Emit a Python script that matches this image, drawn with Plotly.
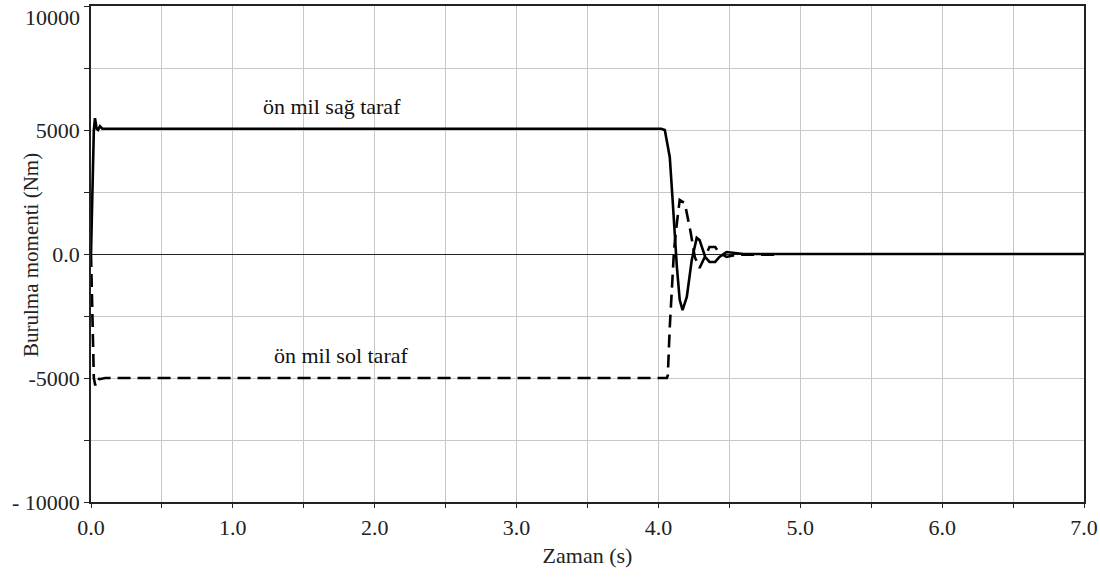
import plotly.graph_objects as go

# Solid: ön mil sağ taraf
t_sag = [0, 0.01, 0.02, 0.028, 0.04, 0.05, 0.063, 0.08, 0.1, 4.02, 4.045, 4.08, 4.10, 4.115, 4.13,
         4.15, 4.17, 4.20, 4.235, 4.27, 4.29, 4.33, 4.36, 4.40, 4.43, 4.48, 4.52, 4.6, 7.0]
v_sag = [0, 2500, 5000, 5480, 5050, 5000, 5150, 5050, 5050, 5050, 5000, 3900, 2180, 565, -520,
         -1850, -2260, -1730, -240, 650, 560, -120, -320, -320, -120, 80, 60, 0, 0]

# Dashed: ön mil sol taraf
t_sol = [0, 0.01, 0.02, 0.03, 0.045, 0.06, 0.1, 4.06, 4.066, 4.08, 4.094, 4.11, 4.13, 4.15, 4.186,
         4.207, 4.228, 4.256, 4.29, 4.327, 4.36, 4.40, 4.43, 4.48, 4.55, 4.86]
v_sol = [0, -2500, -5000, -5300, -5000, -5050, -5000, -5000, -4900, -2940, -1330, 160, 1250, 2180, 2050,
         1500, 850, -120, -565, -120, 280, 280, 40, -120, -30, -30]

y_ticks = [10000, 5000, 0, -5000, -10000]
y_labels = ["", "5000", "0.0", "-5000", "- 10000"]
y_top_label = "10000"
y_minor = [7500, 2500, -2500, -7500]
x_ticks = [0, 1, 2, 3, 4, 5, 6, 7]
x_labels = ["0.0", "1.0", "2.0", "3.0", "4.0", "5.0", "6.0", "7.0"]
x_minor = [0.5, 1.5, 2.5, 3.5, 4.5, 5.5, 6.5]
x_title = "Zaman (s)"
y_title = "Burulma momenti (Nm)"

font = "Liberation Serif"
fs = 22
ink = "#222"
grid = "#c8c8c8"

fig = go.Figure()
fig.add_trace(go.Scatter(x=t_sol, y=v_sol, mode="lines",
                         line=dict(color="black", width=2.6, dash="13px,7px")))
fig.add_trace(go.Scatter(x=t_sag, y=v_sag, mode="lines",
                         line=dict(color="black", width=2.6)))

fig.add_annotation(x=1.70, y=5000, text="ön mil sağ taraf", showarrow=False,
                   yshift=24, font=dict(family=font, size=fs, color="#111"))
fig.add_annotation(x=1.76, y=-5000, text="ön mil sol taraf", showarrow=False,
                   yshift=23, font=dict(family=font, size=fs, color="#111"))
fig.add_annotation(x=0, y=10000, xref="x", yref="y", text=y_top_label, showarrow=False,
                   xanchor="right", xshift=-9, yshift=-11,
                   font=dict(family=font, size=fs, color=ink))
fig.add_annotation(x=-0.0604, y=0.498, xref="paper", yref="paper", text=y_title,
                   showarrow=False, textangle=-90, xanchor="center", yanchor="middle",
                   font=dict(family=font, size=21, color=ink))

fig.update_layout(
    width=1100, height=577,
    margin=dict(l=91, r=16, t=6, b=75),
    paper_bgcolor="white", plot_bgcolor="white",
    showlegend=False,
    font=dict(family=font, size=fs, color=ink),
    xaxis=dict(range=[0, 7], tickvals=x_ticks, ticktext=x_labels, automargin=False,
               showgrid=True, gridcolor=grid, gridwidth=1,
               ticks="outside", ticklen=4, tickcolor=ink,
               showline=True, linecolor=ink, linewidth=1.5, mirror=True,
               zeroline=False, ticklabelstandoff=1, ticklabeloverflow="allow",
               tickfont=dict(family=font, size=fs, color=ink),
               minor=dict(tickvals=x_minor, showgrid=True,
                          gridcolor=grid, ticks="outside", ticklen=4, tickcolor=ink),
               title=dict(text=x_title, font=dict(family=font, size=fs), standoff=8)),
    yaxis=dict(range=[-10000, 10000], tickvals=y_ticks, ticktext=y_labels, automargin=False,
               showgrid=True, gridcolor=grid, gridwidth=1,
               ticks="outside", ticklen=5, tickcolor=ink,
               showline=True, linecolor=ink, linewidth=1.5, mirror=True,
               zeroline=True, zerolinecolor=ink, zerolinewidth=1.2,
               ticklabelstandoff=0, ticklabeloverflow="allow",
               tickfont=dict(family=font, size=fs, color=ink),
               minor=dict(tickvals=y_minor, showgrid=True,
                          gridcolor=grid, ticks="outside", ticklen=5, tickcolor=ink)),
)

fig.write_html("out.html", config={"displayModeBar": False},
               post_script="document.body.style.margin='0';")
